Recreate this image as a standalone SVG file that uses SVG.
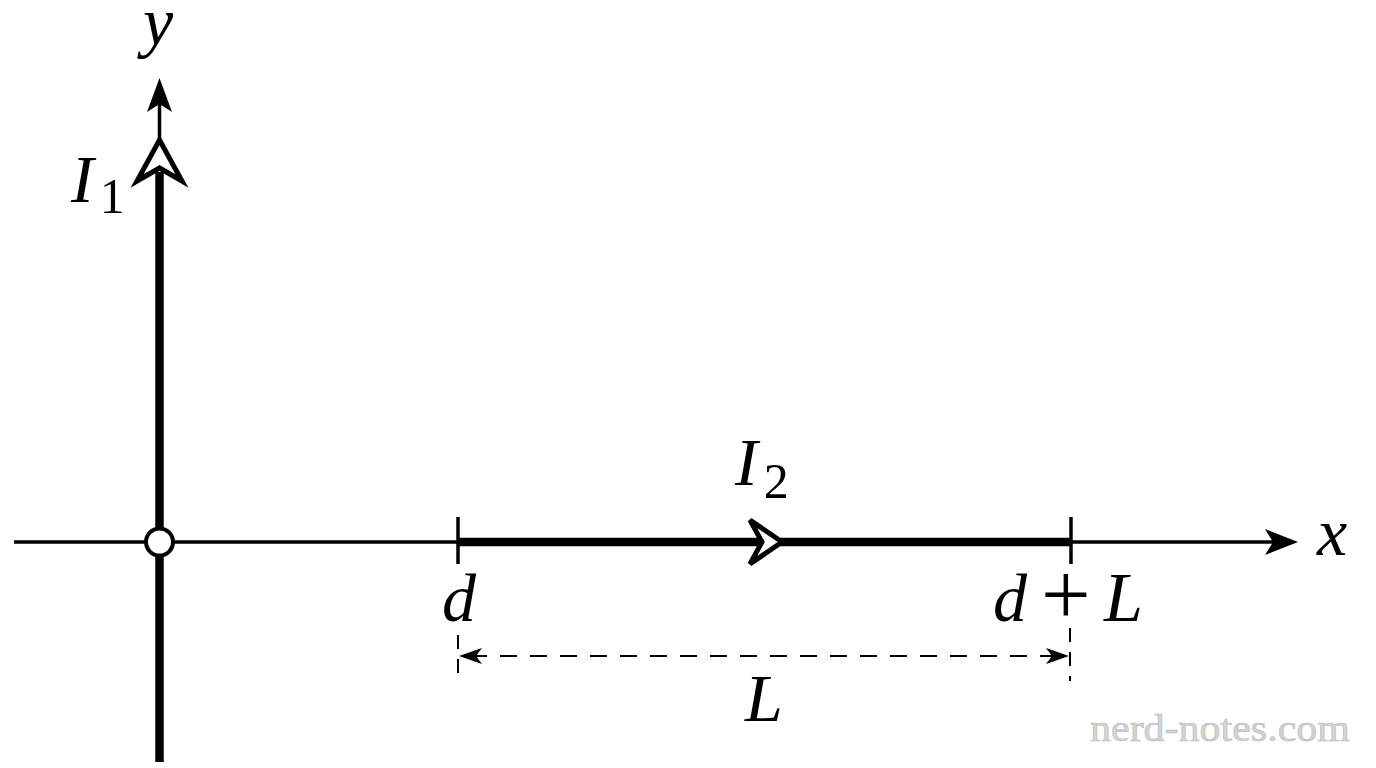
<svg xmlns="http://www.w3.org/2000/svg" width="1376" height="768" viewBox="0 0 1376 768">
<style>
.m{font-family:"Liberation Serif","DejaVu Serif",serif;font-style:italic;font-size:68px;fill:#000}
.sub{font-family:"Liberation Serif","DejaVu Serif",serif;font-style:normal;font-size:50px;fill:#000}
.up{font-family:"Liberation Serif","DejaVu Serif",serif;font-style:normal;fill:#000}
.thin{stroke:#000;stroke-width:3.5;fill:none}
.thick{stroke:#000;stroke-width:8.5;fill:none}
.tick{stroke:#000;stroke-width:3.5}
.dash{stroke:#000;stroke-width:2;fill:none}
.open{fill:#fff;stroke:#000;stroke-width:5;stroke-linejoin:miter}
.wm{font-family:"Liberation Serif","DejaVu Serif",serif;font-size:38px;fill:#d4d4d4;stroke:#b8b8b8;stroke-width:0.6}
</style>
<rect width="1376" height="768" fill="#fff"/>
<g id="connectors">
  <g id="x-axis">
    <line class="thin" x1="14" y1="542" x2="1276" y2="542"/>
    <path d="M1298,542 L1265,529 L1273,542 L1265,555 Z" fill="#000"/>
  </g>
  <g id="y-axis">
    <line class="thin" x1="159.5" y1="104" x2="159.5" y2="145"/>
    <path d="M159.5,78 L147,112 L159.5,104 L172,112 Z" fill="#000"/>
  </g>
  <g id="wire-1">
    <line class="thick" x1="159.5" y1="762" x2="159.5" y2="172"/>
    <path class="open" d="M159.5,140 L182,181 L159.5,168 L137,181 Z"/>
  </g>
  <g id="wire-2">
    <line class="thick" x1="458" y1="542" x2="1071" y2="542"/>
    <path class="open" d="M782,542 L750,564 L762,542 L750,520 Z"/>
    <line class="tick" x1="458" y1="517" x2="458" y2="564"/>
    <line class="tick" x1="1071" y1="517" x2="1071" y2="564"/>
  </g>
  <g id="dimension">
    <line class="dash" x1="458" y1="635" x2="458" y2="681" stroke-dasharray="14 10"/>
    <line class="dash" x1="1070" y1="628" x2="1070" y2="681" stroke-dasharray="14 10"/>
    <line class="dash" x1="470" y1="656" x2="1058" y2="656" stroke-dasharray="17 13"/>
    <path d="M459,656 L482,648 L476,656 L482,664 Z" fill="#000"/>
    <path d="M1069,656 L1046,648 L1052,656 L1046,664 Z" fill="#000"/>
  </g>
</g>
<g id="origin">
  <circle cx="159.5" cy="542" r="13.5" fill="#fff" stroke="#000" stroke-width="4"/>
</g>
<g id="label-y"><text class="m" x="158" y="45" text-anchor="middle">y</text></g>
<g id="label-x"><text class="m" x="1317" y="555">x</text></g>
<g id="label-I1"><text class="m" x="71" y="202">I<tspan class="sub" dx="6" dy="11">1</tspan></text></g>
<g id="label-I2"><text class="m" x="735" y="485">I<tspan class="sub" dx="6" dy="13">2</tspan></text></g>
<g id="label-d"><text class="m" x="459" y="621" text-anchor="middle">d</text></g>
<g id="label-dL"><text class="m" x="993" y="621">d<tspan class="up" font-size="88" x="1041" y="624">+</tspan><tspan x="1104" y="621" font-size="70">L</tspan></text></g>
<g id="label-L"><text class="m" x="764" y="721" text-anchor="middle" font-size="70">L</text></g>
<g id="watermark"><text class="wm" x="1090" y="741" textLength="260" lengthAdjust="spacingAndGlyphs">nerd-notes.com</text></g>
</svg>
